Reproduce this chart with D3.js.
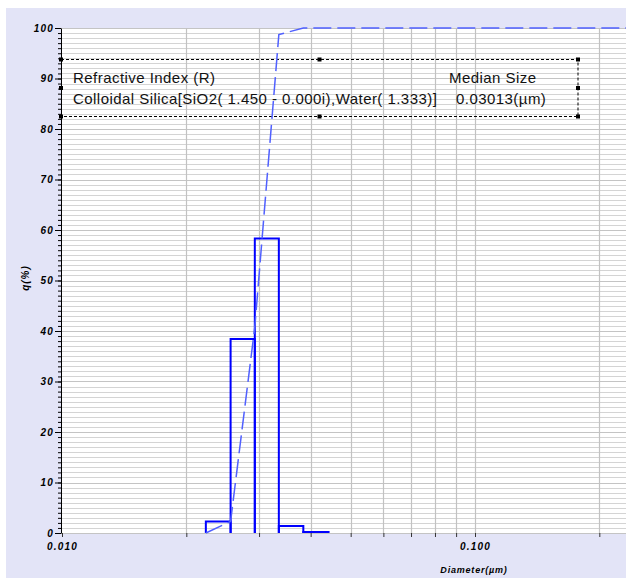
<!DOCTYPE html>
<html>
<head>
<meta charset="utf-8">
<script src="https://cdn.jsdelivr.net/npm/d3@7/dist/d3.min.js"></script>
<style>
  html, body { margin: 0; padding: 0; background: #fff; }
  svg { display: block; font-family: Arial, "Liberation Sans", sans-serif; }
</style>
</head>
<body>
<div id="chart"></div>
<script>
// size bins (um), frequency q(%) per bin, cumulative undersize (%) at each edge
var binEdges = [0.0223, 0.0256, 0.0293, 0.0335, 0.0384, 0.0442];
var qValues = [2.3, 38.4, 58.3, 1.4, 0.2];
var underValues = [0, 2.3, 40.8, 98.7, 100, 100];

var yTicks = [0, 10, 20, 30, 40, 50, 60, 70, 80, 90, 100];
var xTickValues = [0.01, 0.02, 0.03, 0.04, 0.05, 0.06, 0.07, 0.08, 0.09, 0.1, 0.2];
var xLabelValues = [0.01, 0.1];

var legendHeader = ["Refractive Index (R)", "Median Size"];
var legendRow = ["Colloidal Silica[SiO2( 1.450 - 0.000i),Water( 1.333)]", "0.03013(\u00b5m)"];

var W = 626, H = 579;
var pLeft = 61, pTop = 28, pBottom = 533, pRight = 626;

var svg = d3.select('#chart').append('svg')
  .attr('width', W)
  .attr('height', H);

// lavender frame + white plot area
svg.append('rect').attr('x', 6).attr('y', 8).attr('width', W - 6).attr('height', H - 9)
  .attr('fill', '#e3e4f7');
svg.append('rect').attr('x', pLeft).attr('y', pTop).attr('width', pRight - pLeft).attr('height', pBottom - pTop)
  .attr('fill', '#fff');

var x = d3.scaleLog().domain([0.01, 0.1]).range([62, 475]);
var y = d3.scaleLinear().domain([0, 100]).range([pBottom, pTop]);
var xEnd = x.invert(pRight + 5);

// horizontal grid every 1%
svg.append('g').selectAll('line').data(d3.range(0, 101, 1))
  .enter().append('line')
  .attr('x1', pLeft).attr('x2', pRight)
  .attr('y1', function (d) { return Math.round(y(d)) + 0.5; })
  .attr('y2', function (d) { return Math.round(y(d)) + 0.5; })
  .attr('stroke', function (d) { return d % 10 === 0 ? '#c4c4c4' : '#d4d4d4'; })
  .attr('stroke-width', 1);

// vertical grid
svg.append('g').selectAll('line').data(xTickValues.slice(1))
  .enter().append('line')
  .attr('x1', function (d) { return Math.round(x(d)) + 0.5; })
  .attr('x2', function (d) { return Math.round(x(d)) + 0.5; })
  .attr('y1', pTop).attr('y2', pBottom)
  .attr('stroke', '#c2c2c2')
  .attr('stroke-width', 1.2);

// legend box (dotted) with handles
var lb = { x1: 61, x2: 578, y1: 59.5, y2: 116.5 };
var box = svg.append('g');
box.append('path')
  .attr('d', 'M' + lb.x1 + ',' + lb.y1 + 'H' + lb.x2 + 'V' + lb.y2 + 'H' + lb.x1)
  .attr('fill', 'none').attr('stroke', '#000').attr('stroke-width', 1)
  .attr('stroke-dasharray', '3,2');
var mx = (lb.x1 + lb.x2) / 2, my = (lb.y1 + lb.y2) / 2;
var handles = [[lb.x1, lb.y1], [mx, lb.y1], [lb.x2, lb.y1], [lb.x1, my], [lb.x2, my],
  [lb.x1, lb.y2], [mx, lb.y2], [lb.x2, lb.y2]];
box.selectAll('rect').data(handles).enter().append('rect')
  .attr('x', function (d) { return d[0] - 2; })
  .attr('y', function (d) { return d[1] - 2; })
  .attr('width', 4).attr('height', 4)
  .attr('fill', '#000');

var legText = svg.append('g').attr('font-size', '15px').attr('letter-spacing', '0.45px').attr('fill', '#111');
legText.append('text').attr('x', 73).attr('y', 82.5).text(legendHeader[0]);
legText.append('text').attr('x', 449).attr('y', 82.5).text(legendHeader[1]);
legText.append('text').attr('x', 73).attr('y', 104).text(legendRow[0]);
legText.append('text').attr('x', 456).attr('y', 104).text(legendRow[1]);

// histogram bins, drawn as open-bottom outlines
var bins = qValues.map(function (v, i) {
  return { x0: binEdges[i], x1: binEdges[i + 1], q: v };
});
svg.append('g').selectAll('path').data(bins)
  .enter().append('path')
  .attr('d', function (d) {
    return 'M' + x(d.x0) + ',' + y(0) + 'V' + y(d.q) + 'H' + x(d.x1) + 'V' + y(0);
  })
  .attr('fill', 'none')
  .attr('stroke', '#0000ff')
  .attr('stroke-width', 2);

// cumulative undersize, dashed
var cum = binEdges.map(function (e, i) { return [e, underValues[i]]; });
cum.push([xEnd, underValues[underValues.length - 1]]);
svg.append('path')
  .datum(cum)
  .attr('d', d3.line()
    .x(function (d) { return x(d[0]); })
    .y(function (d) { return y(d[1]); }))
  .attr('fill', 'none')
  .attr('stroke', '#5060ff')
  .attr('stroke-width', 1.5)
  .attr('stroke-dasharray', '18,6');

// y axis: minor ticks then major ticks with labels
svg.append('g')
  .attr('transform', 'translate(' + pLeft + ',0)')
  .call(d3.axisLeft(y).tickValues(d3.range(0, 101, 1)).tickSize(3).tickSizeOuter(0).tickFormat(''))
  .call(function (g) { g.select('.domain').attr('stroke', '#000'); });
var yAxis = svg.append('g')
  .attr('transform', 'translate(' + pLeft + ',0)')
  .call(d3.axisLeft(y).tickValues(yTicks).tickSize(6).tickPadding(1).tickSizeOuter(0));
yAxis.select('.domain').remove();
yAxis.selectAll('text')
  .attr('font-size', '10px').attr('font-weight', 'bold').attr('font-style', 'italic')
  .attr('letter-spacing', '1.2px').attr('fill', '#000');

// x axis
var xAxis = svg.append('g')
  .attr('transform', 'translate(0,' + pBottom + ')')
  .call(d3.axisBottom(x).tickValues(xTickValues).tickSize(4).tickPadding(6).tickSizeOuter(0)
    .tickFormat(function (d) {
      return xLabelValues.indexOf(d) >= 0 ? d3.format('.3f')(d) : '';
    }));
xAxis.select('.domain').remove();
xAxis.selectAll('line').attr('stroke', '#333');
xAxis.selectAll('text')
  .attr('font-size', '10px').attr('font-weight', 'bold').attr('font-style', 'italic')
  .attr('letter-spacing', '1.2px').attr('fill', '#000');

// axis titles
svg.append('text')
  .attr('transform', 'translate(29,278) rotate(-90)')
  .attr('text-anchor', 'middle')
  .attr('font-size', '10px').attr('font-weight', 'bold').attr('font-style', 'italic')
  .attr('letter-spacing', '1px')
  .text('q(%)');
svg.append('text')
  .attr('x', 474).attr('y', 573)
  .attr('text-anchor', 'middle')
  .attr('font-size', '9px').attr('font-weight', 'bold').attr('font-style', 'italic')
  .attr('letter-spacing', '0.8px')
  .text('Diameter(\u00b5m)');
</script>
</body>
</html>
